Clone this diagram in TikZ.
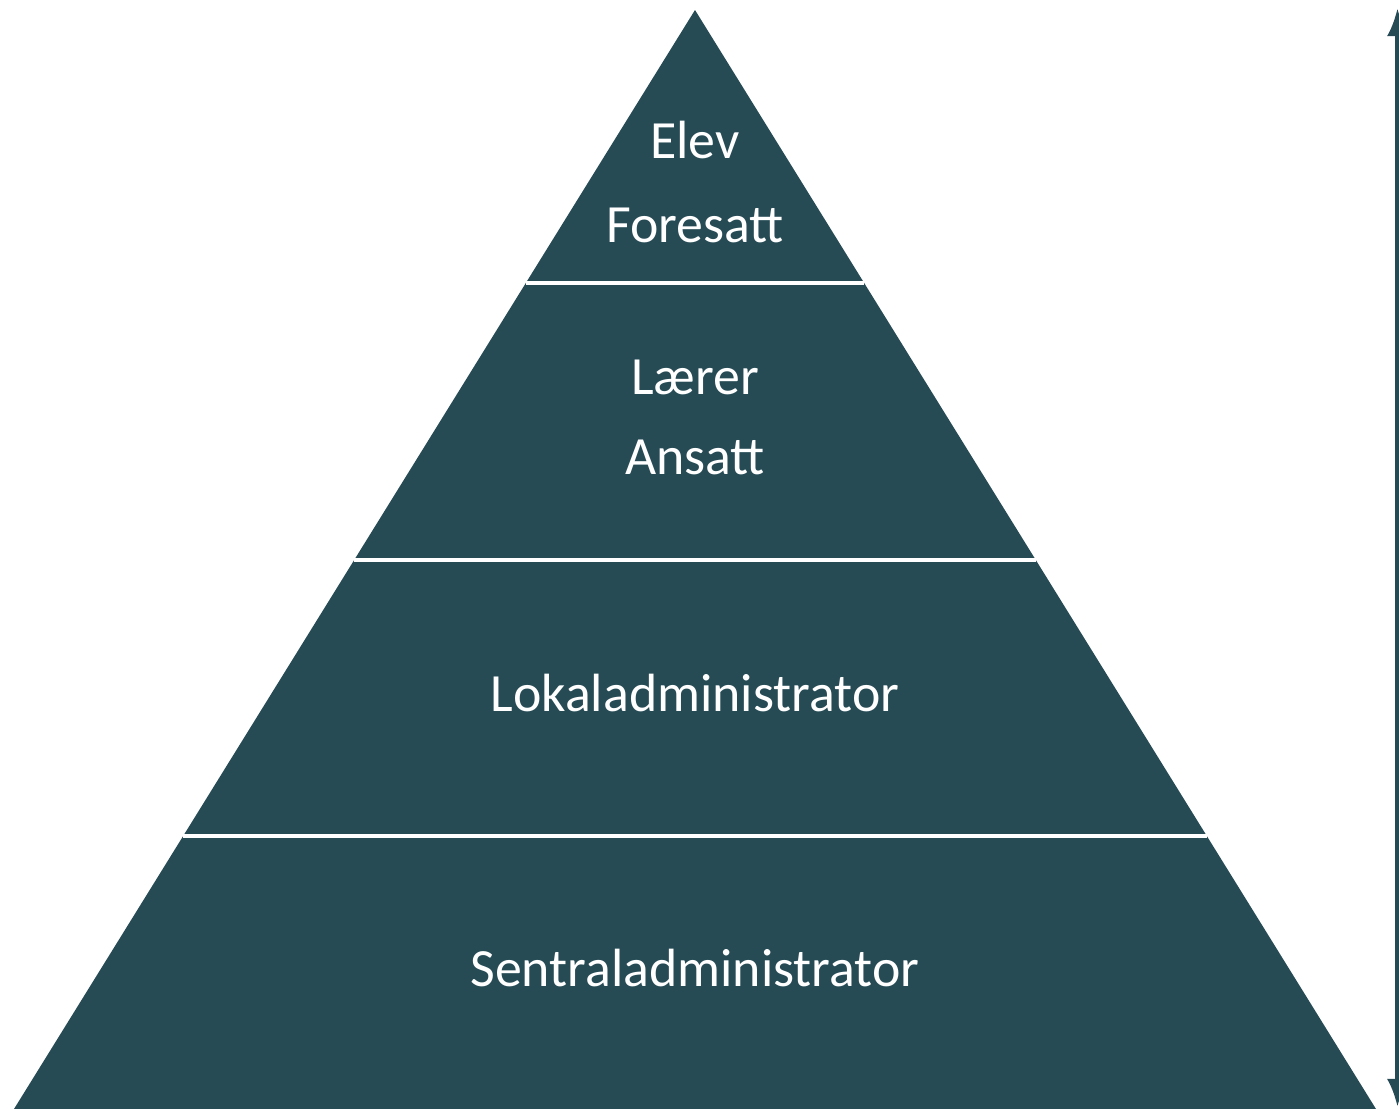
\documentclass[tikz,border=0pt]{standalone}
\usepackage{fontspec}
\usetikzlibrary{arrows.meta}
\setmainfont{Carlito}
\definecolor{pyrteal}{HTML}{264B55}
\begin{document}
\begin{tikzpicture}[x=0.01cm,y=-0.01cm,
  lbl/.style={text=white,font=\fontsize{15.3pt}{18pt}\selectfont,inner sep=0pt},
  sep/.style={draw=white,line width=1pt}]
\useasboundingbox (0,0) rectangle (1399,1109);
\clip (0,0) rectangle (1399,1109);
\coordinate (apex) at (695,10);
\coordinate (bl) at (14,1109);
\coordinate (br) at (1376,1109);
\fill[pyrteal] (apex) -- (br) -- (bl) -- cycle;
% separators
\foreach \yy in {283,560,836}{
  \draw[sep] ({695-0.6197*(\yy-10)},\yy) -- ({695+0.6197*(\yy-10)},\yy);
}
\node[lbl] (elev) at (695,140) {Elev};
\node[lbl] (foresatt) at (695,225) {Foresatt};
\node[lbl] (laerer) at (695,377) {Lærer};
\node[lbl] (ansatt) at (695,457) {Ansatt};
\node[lbl] (lokal) at (695,693) {Lokaladministrator};
\node[lbl] (sentral) at (695,968) {Sentraladministrator};
% vertical arrow on the right
\coordinate (atop) at (1397.5,8);
\coordinate (abot) at (1397.5,1107);
\draw[pyrteal,line width=1.2pt,{Latex[length=8pt,width=6pt]}-{Latex[length=8pt,width=6pt]}] (abot) -- (atop);
\end{tikzpicture}
\end{document}
